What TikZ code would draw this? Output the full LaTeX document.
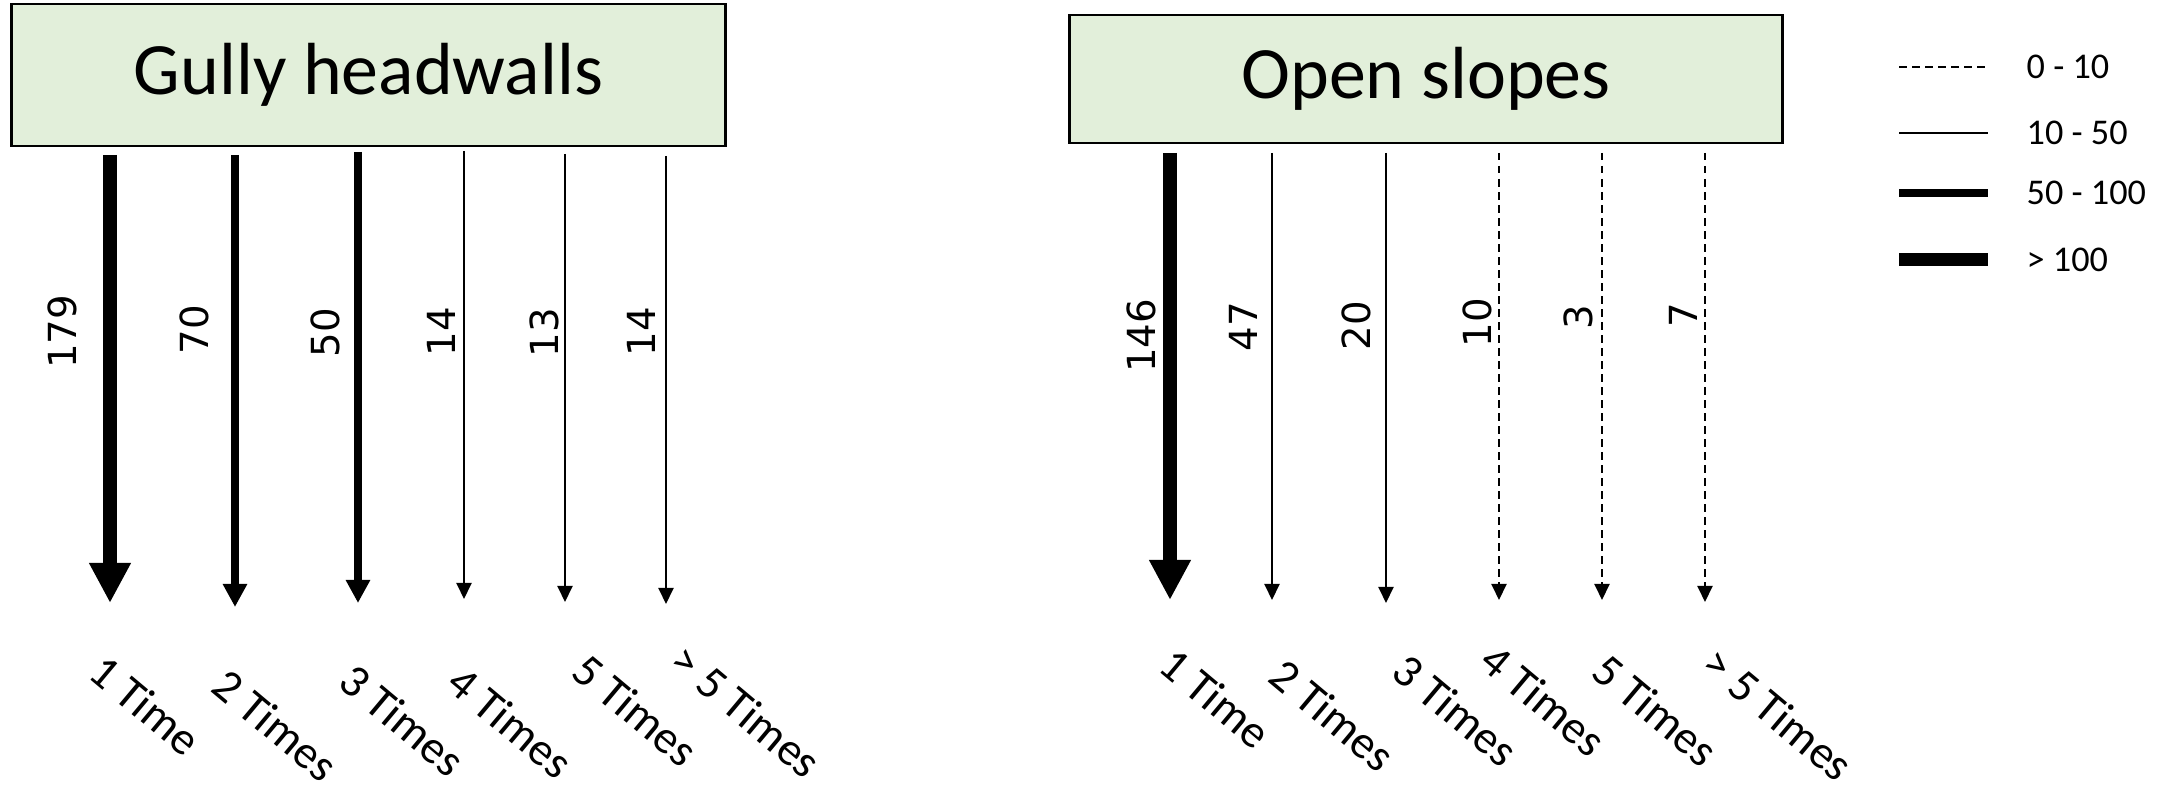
\documentclass[tikz,border=0pt]{standalone}
\usepackage{fontspec}
\setmainfont{Carlito}
\newfontfamily\numfont{DejaVu Sans}
\usetikzlibrary{arrows.meta}
\definecolor{boxgreen}{HTML}{E2EFDA}
\tikzset{
  titlebox/.style={draw=black, line width=0.8pt, fill=boxgreen, inner sep=0pt,
    minimum width=7.13cm, font=\fontsize{21}{25}\selectfont},
  heavyline/.style={line width=3.7pt},
  mediumline/.style={line width=2.2pt},
  lightline/.style={line width=0.6pt},
  dashline/.style={lightline, dash pattern=on 0.075cm off 0.055cm},
  heavy/.style={heavyline, -{Triangle[length=0.4cm,width=0.39cm]}},
  medium/.style={mediumline, -{Triangle[length=0.23cm,width=0.23cm]}},
  light/.style={lightline, -{Triangle[length=0.16cm,width=0.15cm]}},
  lightdash/.style={dashline, -{Triangle[length=0.16cm,width=0.15cm]}},
  count/.style={rotate=90, inner sep=0pt, font=\numfont\fontsize{11}{13}\selectfont},
  category/.style={rotate=-40, anchor=north west, inner sep=0pt,
    font=\fontsize{13.2}{15}\selectfont},
  legendtext/.style={anchor=west, inner sep=0pt, font=\fontsize{10.3}{12}\selectfont},
}
\begin{document}
\begin{tikzpicture}[x=0.01cm, y=-0.01cm]
\useasboundingbox (0,0) rectangle (2174,789);

% headers
\node[titlebox, minimum height=1.42cm] (gully) at (368.5,75) {Gully headwalls};
\node[titlebox, minimum height=1.28cm] (open) at (1426,79) {Open slopes};

% gully headwalls: x, top, tip, style, count, count position, category position, category
\foreach \i/\x/\t/\b/\s/\n/\nx/\ny/\cx/\cy/\c in {
  1/110/155/603/heavy/179/62/332/107/651/1 Time,
  2/235/155/607/medium/70/194/330/230/665/2 Times,
  3/358/152/603/medium/50/325/333/357/660/3 Times,
  4/464/151/599/light/14/441/332/465/662/4 Times,
  5/565/154/602/light/13/544/333/590/650/5 Times,
  6/666/156/604/light/14/641/332/688/640/> 5 Times}{
  \coordinate (gs\i) at (\x,\t);
  \coordinate (ge\i) at (\x,\b);
  \draw[\s] (gs\i) -- (ge\i);
  \node[count] (gn\i) at (\nx,\ny) {\n};
  \node[category] (gc\i) at (\cx,\cy) {\c};
}

% open slopes
\foreach \i/\x/\t/\b/\s/\n/\nx/\ny/\cx/\cy/\c in {
  1/1170/153/600/heavy/146/1141/336/1177/644/1 Time,
  2/1272/153/600/light/47/1243/327/1287/655/2 Times,
  3/1386/153/603/light/20/1356/326/1410/650/3 Times,
  4/1499/153/600/lightdash/10/1477/323/1498/640/4 Times,
  5/1602/153/600/lightdash/3/1578/317/1610/650/5 Times,
  6/1705/153/602/lightdash/7/1683/315/1720/643/> 5 Times}{
  \coordinate (os\i) at (\x,\t);
  \coordinate (oe\i) at (\x,\b);
  \draw[\s] (os\i) -- (oe\i);
  \node[count] (on\i) at (\nx,\ny) {\n};
  \node[category] (oc\i) at (\cx,\cy) {\c};
}

% legend
\foreach \i/\y/\s/\t in {1/67/dashline/0 - 10, 2/133/lightline/10 - 50,
    3/193/mediumline/50 - 100, 4/260/heavyline/> 100}{
  \coordinate (la\i) at (1899,\y);
  \coordinate (lb\i) at (1988,\y);
  \draw[\s] (la\i) -- (lb\i);
  \node[legendtext] (lt\i) at (2026,\y) {\t};
}
\end{tikzpicture}
\end{document}
